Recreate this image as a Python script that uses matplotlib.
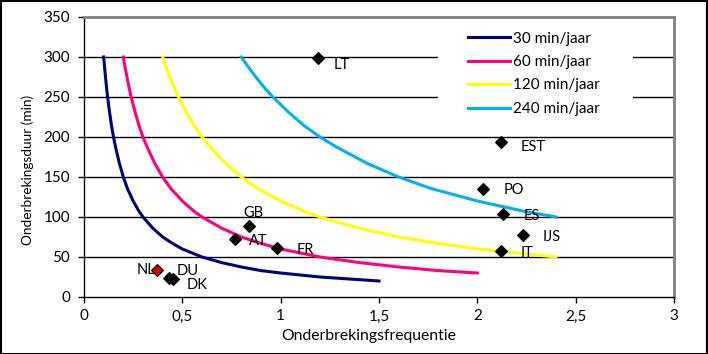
import numpy as np
import matplotlib.pyplot as plt
from matplotlib.patches import Rectangle

plt.rcParams['font.family'] = ['Lato', 'DejaVu Sans']

# Iso-lijnen: onderbrekingsfrequentie vs. duur
f30 = [0.100, 0.105, 0.11, 0.115, 0.12, 0.13, 0.14, 0.15, 0.16, 0.18, 0.20, 0.22, 0.25, 0.28,
       0.30, 0.35, 0.40, 0.45, 0.50, 0.60, 0.70, 0.80, 0.90, 1.00, 1.20, 1.50]
d30 = [300, 286, 273, 261, 250, 231, 214, 200, 188, 167, 150, 136, 120, 107,
       100, 86, 75, 67, 60, 50, 43, 37.5, 33, 30, 25, 20]
f60 = [0.20, 0.21, 0.22, 0.23, 0.24, 0.26, 0.28, 0.30, 0.32, 0.36, 0.40, 0.44, 0.50, 0.56,
       0.60, 0.70, 0.80, 0.90, 1.00, 1.20, 1.40, 1.60, 1.80, 2.00]
d60 = [300, 286, 273, 261, 250, 231, 214, 200, 188, 167, 150, 136, 120, 107,
       100, 86, 75, 67, 60, 50, 43, 37.5, 33, 30]
f120 = [0.40, 0.42, 0.44, 0.46, 0.48, 0.52, 0.56, 0.60, 0.64, 0.72, 0.80, 0.88, 1.00, 1.12,
        1.20, 1.40, 1.60, 1.80, 2.00, 2.40]
d120 = [300, 286, 273, 261, 250, 231, 214, 200, 188, 167, 150, 136, 120, 107,
        100, 86, 75, 67, 60, 50]
f240 = [0.80, 0.84, 0.88, 0.92, 0.96, 1.04, 1.12, 1.20, 1.28, 1.44, 1.60, 1.76, 2.00, 2.24, 2.40]
d240 = [300, 286, 273, 261, 250, 231, 214, 200, 188, 167, 150, 136, 120, 107, 100]

# Landen
landen = ['LT', 'EST', 'PO', 'ES', 'IJS', 'IT', 'GB', 'AT', 'FR', 'NL', 'DU', 'DK']
freq = [1.19, 2.12, 2.03, 2.13, 2.23, 2.12, 0.84, 0.77, 0.98, 0.37, 0.43, 0.45]
duur = [299, 194, 135, 104, 77, 58, 89, 72, 61, 34, 24, 23]

# label-offsets in pixels (dx, dy omlaag) en uitlijning
offsets = {'LT': (16, 7, 'left'), 'EST': (20, 5, 'left'), 'PO': (20, 1.5, 'left'),
           'ES': (21, 2, 'left'), 'IJS': (20, 1.5, 'left'), 'IT': (20, 2, 'left'),
           'GB': (-6, -13, 'left'), 'AT': (14, 1.5, 'left'), 'FR': (20, 2, 'left'),
           'NL': (-1, 0, 'right'), 'DU': (8, -7, 'left'), 'DK': (14, 6, 'left')}

fig = plt.figure(figsize=(7.08, 3.54), dpi=100)
ax = fig.add_axes([84 / 708, 57 / 354, 590 / 708, 280 / 354])

for y in range(50, 301, 50):
    ax.axhline(y, color='black', linewidth=1, zorder=1)

# witte achtergrond van de legenda
ax.add_patch(Rectangle(((438 - 84) / 590, (297 - 118) / 280), 195 / 590, 93 / 280,
                       transform=ax.transAxes, facecolor='white', edgecolor='none', zorder=1.5))

ax.plot(f30, d30, color='#000080', linewidth=2.2, label='30 min/jaar', zorder=3)
ax.plot(f60, d60, color='#FF0080', linewidth=2.2, label='60 min/jaar', zorder=3)
ax.plot(f120, d120, color='#FFFF00', linewidth=2.2, label='120 min/jaar', zorder=3)
ax.plot(f240, d240, color='#00B0F0', linewidth=2.2, label='240 min/jaar', zorder=3)

for naam, x, y in zip(landen, freq, duur):
    fc = '#E00000' if naam == 'NL' else 'black'
    ax.plot(x, y, marker='D', markersize=6.5, color=fc, markeredgecolor='black',
            markeredgewidth=0.8, linestyle='none', zorder=5)
    dx, dy, ha = offsets[naam]
    ax.annotate(naam, (x, y), xytext=(dx * 0.72, -dy * 0.72), textcoords='offset points',
                ha=ha, va='center', fontsize=10.5, zorder=4)

ax.set_xlim(0, 3)
ax.set_ylim(0, 350)
ax.set_xticks(np.arange(0, 3.01, 0.5))
ax.set_xticklabels(['0', '0,5', '1', '1,5', '2', '2,5', '3'])
ax.set_yticks(range(0, 351, 50))
ax.tick_params(direction='out', length=4, width=1, labelsize=11, color='black')
ax.tick_params(axis='x', pad=5)
ax.tick_params(axis='y', pad=6)
for side in ['top', 'right']:
    ax.spines[side].set_color('#808080')
    ax.spines[side].set_linewidth(2)
for side in ['left', 'bottom']:
    ax.spines[side].set_color('black')
    ax.spines[side].set_linewidth(1)

ax.set_xlabel('Onderbrekingsfrequentie', fontsize=11.3)
ax.set_ylabel('Onderbrekingsduur (min)', fontsize=9.8)
ax.xaxis.set_label_coords((369 - 84) / 590, (297 - 329) / 280)
ax.yaxis.set_label_coords((34 - 84) / 590, (297 - 169.5) / 280)

leg = ax.legend(loc='upper left', bbox_to_anchor=((468 - 84) / 590, (297 - 31.5) / 280),
                frameon=False, fontsize=11, handlelength=2.75, handletextpad=0.2,
                labelspacing=0.62, borderaxespad=0, borderpad=0)
leg.set_zorder(2)

fig.patches.append(Rectangle((0.5 / 708, 0.5 / 354), 706.5 / 708, 352.5 / 354,
                             transform=fig.transFigure, fill=False,
                             edgecolor='black', linewidth=1.5))

fig.savefig('out.png', dpi=100)
